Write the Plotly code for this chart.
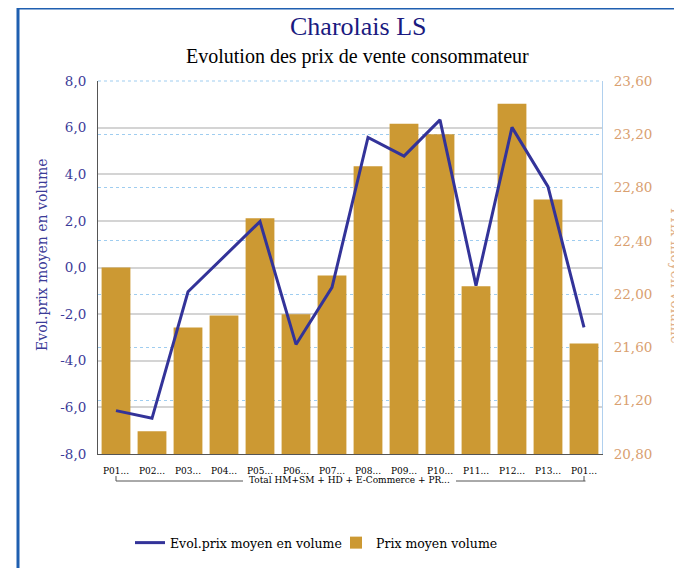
import plotly.graph_objects as go

periods = ["P01...", "P02...", "P03...", "P04...", "P05...", "P06...", "P07...",
           "P08...", "P09...", "P10...", "P11...", "P12...", "P13...", "P01..."]
group_label = "Total HM+SM + HD + E-Commerce + PR..."
evol_prix = [-6.14, -6.47, -1.04, 0.46, 1.97, -3.30, -0.85,
             5.58, 4.78, 6.33, -0.78, 6.01, 3.47, -2.57]
prix_moyen = [22.20, 20.97, 21.75, 21.84, 22.57, 21.85, 22.14,
              22.96, 23.28, 23.20, 22.06, 23.43, 22.71, 21.63]
left_ticks = [-8, -6, -4, -2, 0, 2, 4, 6, 8]
left_ticktext = ["-8,0", "-6,0", "-4,0", "-2,0", "0,0", "2,0", "4,0", "6,0", "8,0"]
right_ticks = [20.8, 21.2, 21.6, 22.0, 22.4, 22.8, 23.2, 23.6]
right_ticktext = ["20,80", "21,20", "21,60", "22,00", "22,40", "22,80", "23,20", "23,60"]

TFONT = "Liberation Serif"
FONT = "DejaVu Serif"
BLUE = "#3b3b98"
TAN = "#d9a070"
pos = list(range(len(periods)))

fig = go.Figure()
fig.add_trace(go.Scatter(
    x=pos, y=evol_prix, name="Evol.prix moyen en volume", mode="lines",
    line=dict(color="#333399", width=3), yaxis="y2"))
fig.add_trace(go.Bar(
    x=pos, y=prix_moyen, name="Prix moyen volume",
    marker=dict(color="#cc9933", line=dict(width=0)), yaxis="y"))

# plot area in screen pixels: x 98..602, y 81..454 (page has an 8px body margin)
fig.update_layout(
    width=682, height=568,
    margin=dict(l=90, r=88, t=73, b=122),
    paper_bgcolor="white", plot_bgcolor="white",
    font=dict(family=FONT, size=13, color="black"),
    bargap=0.2,
    showlegend=True,
    legend=dict(orientation="h", x=(130 - 98) / 504.0, xanchor="left",
                y=1 - (543 - 81) / 373.0, yanchor="middle",
                entrywidth=161, entrywidthmode="pixels",
                font=dict(family=FONT, size=12.5, color="black")),
    xaxis=dict(range=[-0.5, 13.5], tickvals=pos, ticktext=periods,
               tickfont=dict(family=FONT, size=9, color="black"),
               showgrid=False, showline=True, linecolor="#555555", linewidth=1,
               ticks="", zeroline=False, ticklabelstandoff=8),
    yaxis=dict(range=[20.8, 23.6], side="right", tickvals=right_ticks, ticktext=right_ticktext,
               tickfont=dict(family=FONT, size=13.5, color=TAN),
               showgrid=True, gridcolor="#9fcdf0", griddash="dot", gridwidth=1,
               showline=True, linecolor="#b0d0ee", linewidth=1, zeroline=False,
               ticks="", ticklabelstandoff=8),
    yaxis2=dict(range=[-8, 8], side="left", overlaying="y", tickvals=left_ticks,
                ticktext=left_ticktext,
                tickfont=dict(family=FONT, size=13.5, color=BLUE),
                showgrid=True, gridcolor="#d4d4d4", gridwidth=1.5,
                showline=True, linecolor="#555555", linewidth=1, zeroline=False,
                ticks="", ticklabelstandoff=8),
)

W, H = 504.0, 373.0
def px(xp):
    return (xp - 98) / W
def py(yp):
    return 1 - (yp - 81) / H

BR = "#555555"
shapes = [
    # outer frame
    dict(type="line", xref="paper", yref="paper", x0=px(18), x1=px(700), y0=py(8), y1=py(8),
         line=dict(color="#1f5fb0", width=3)),
    dict(type="line", xref="paper", yref="paper", x0=px(18), x1=px(18), y0=py(8), y1=py(600),
         line=dict(color="#1f5fb0", width=3)),
    # top dotted line
    dict(type="line", xref="paper", yref="paper", x0=0, x1=1, y0=1, y1=1,
         line=dict(color="#9fcdf0", width=1, dash="dot")),
    # bracket under category labels (gap left for the group label)
    dict(type="line", xref="x", yref="paper", x0=pos[0], x1=pos[0], y0=py(481), y1=py(476),
         line=dict(color=BR, width=1)),
    dict(type="line", xref="x", yref="paper", x0=pos[-1], x1=pos[-1], y0=py(481), y1=py(476),
         line=dict(color=BR, width=1)),
    dict(type="line", xref="paper", yref="paper", x0=px(116), x1=px(243), y0=py(481), y1=py(481),
         line=dict(color=BR, width=1)),
    dict(type="line", xref="paper", yref="paper", x0=px(456), x1=px(585.5), y0=py(481), y1=py(481),
         line=dict(color=BR, width=1)),
]
fig.update_layout(shapes=shapes)

annotations = [
    dict(text="Charolais LS", xref="paper", yref="paper", x=px(358), y=py(27),
         showarrow=False, font=dict(family=TFONT, size=26, color="#1a1a80"),
         xanchor="center", yanchor="middle"),
    dict(text="Evolution des prix de vente consommateur", xref="paper", yref="paper",
         x=px(357), y=py(57), showarrow=False, font=dict(family=TFONT, size=20, color="black"),
         xanchor="center", yanchor="middle"),
    dict(text="Evol.prix moyen en volume", xref="paper", yref="paper", x=px(42), y=py(255),
         textangle=-90, showarrow=False, font=dict(family=FONT, size=14, color=BLUE),
         xanchor="center", yanchor="middle"),
    dict(text="Prix moyen volume", xref="paper", yref="paper", x=px(676), y=py(276),
         textangle=90, showarrow=False, font=dict(family=FONT, size=14, color="#e0b088"),
         xanchor="center", yanchor="middle"),
    dict(text=group_label, xref="paper", yref="paper", x=px(349), y=py(479.5),
         showarrow=False, font=dict(family=FONT, size=9, color="black"),
         xanchor="center", yanchor="middle"),
]
fig.update_layout(annotations=annotations)

fig.write_html("out.html")
